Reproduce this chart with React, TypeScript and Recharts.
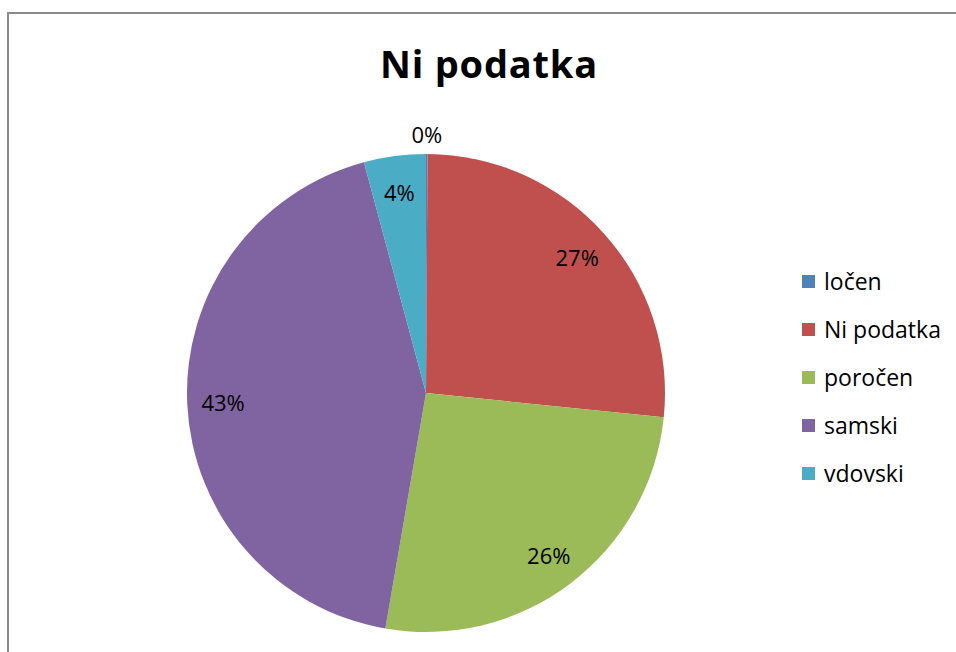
import React from 'react';
import { PieChart, Pie, Cell, Legend } from 'recharts';

const categories = ['ločen', 'Ni podatka', 'poročen', 'samski', 'vdovski'];
const shares = [0.1, 26.52, 26.1, 43.1, 4.18];
const COLORS = ['#4F81BD', '#C0504D', '#9BBB59', '#8064A2', '#4BACC6'];

const data = categories.map((name, i) => ({ name, value: shares[i] }));

const RAD = Math.PI / 180;
const FONT = '"Open Sans", "Liberation Sans", sans-serif';

const renderLabel = (props: any) => {
  const { cx, cy, midAngle, outerRadius, percent, index } = props;
  // tiny slice gets its label outside the pie, like Excel's best fit
  const r = index === 0 ? outerRadius + 20 : outerRadius * 0.85;
  const x = cx + r * Math.cos(-midAngle * RAD);
  const y = cy + r * Math.sin(-midAngle * RAD);
  return (
    <text
      x={x}
      y={y}
      fill="#000"
      textAnchor="middle"
      dominantBaseline="central"
      fontSize={22}
      fontFamily={FONT}
    >
      {`${Math.round(percent * 100)}%`}
    </text>
  );
};

// keep the data order instead of the legend's default alphabetical sort
const LegendList = () => (
  <div style={{ fontFamily: FONT, fontSize: 23, color: '#000' }}>
    {categories.map((name, i) => (
      <div key={name} style={{ display: 'flex', alignItems: 'center', height: 48 }}>
        <span style={{ width: 13, height: 13, background: COLORS[i], marginRight: 9 }} />
        <span>{name}</span>
      </div>
    ))}
  </div>
);

const App: React.FC = () => {
  return (
    <div style={{ position: 'absolute', left: 0, top: 0, width: 956, height: 652, background: '#fff', overflow: 'hidden' }}>
      <div
        style={{
          position: 'absolute',
          left: 7,
          top: 12,
          width: 1000,
          height: 700,
          borderTop: '2px solid #8a8a8a',
          borderLeft: '2px solid #8a8a8a',
        }}
      />
      <div
        style={{
          position: 'absolute',
          top: 35,
          left: 0,
          width: 978,
          textAlign: 'center',
          fontFamily: FONT,
          fontWeight: 700,
          fontSize: 38,
          letterSpacing: 0.8,
          lineHeight: '56px',
        }}
      >
        Ni podatka
      </div>
      <div style={{ position: 'absolute', left: 0, top: 0 }}>
        <PieChart width={956} height={652} margin={{ top: 0, right: 0, bottom: 0, left: 0 }}>
          <Pie
            data={data}
            dataKey="value"
            nameKey="name"
            cx={426}
            cy={393}
            outerRadius={239}
            startAngle={90}
            endAngle={-270}
            stroke="none"
            label={renderLabel}
            labelLine={false}
            isAnimationActive={false}
          >
            {data.map((entry, index) => (
              <Cell key={`cell-${index}`} fill={COLORS[index]} />
            ))}
          </Pie>
          <Legend
            layout="vertical"
            align="right"
            verticalAlign="top"
            content={<LegendList />}
            wrapperStyle={{ left: 802, top: 257, width: 150 }}
          />
        </PieChart>
      </div>
    </div>
  );
};

export default App;
